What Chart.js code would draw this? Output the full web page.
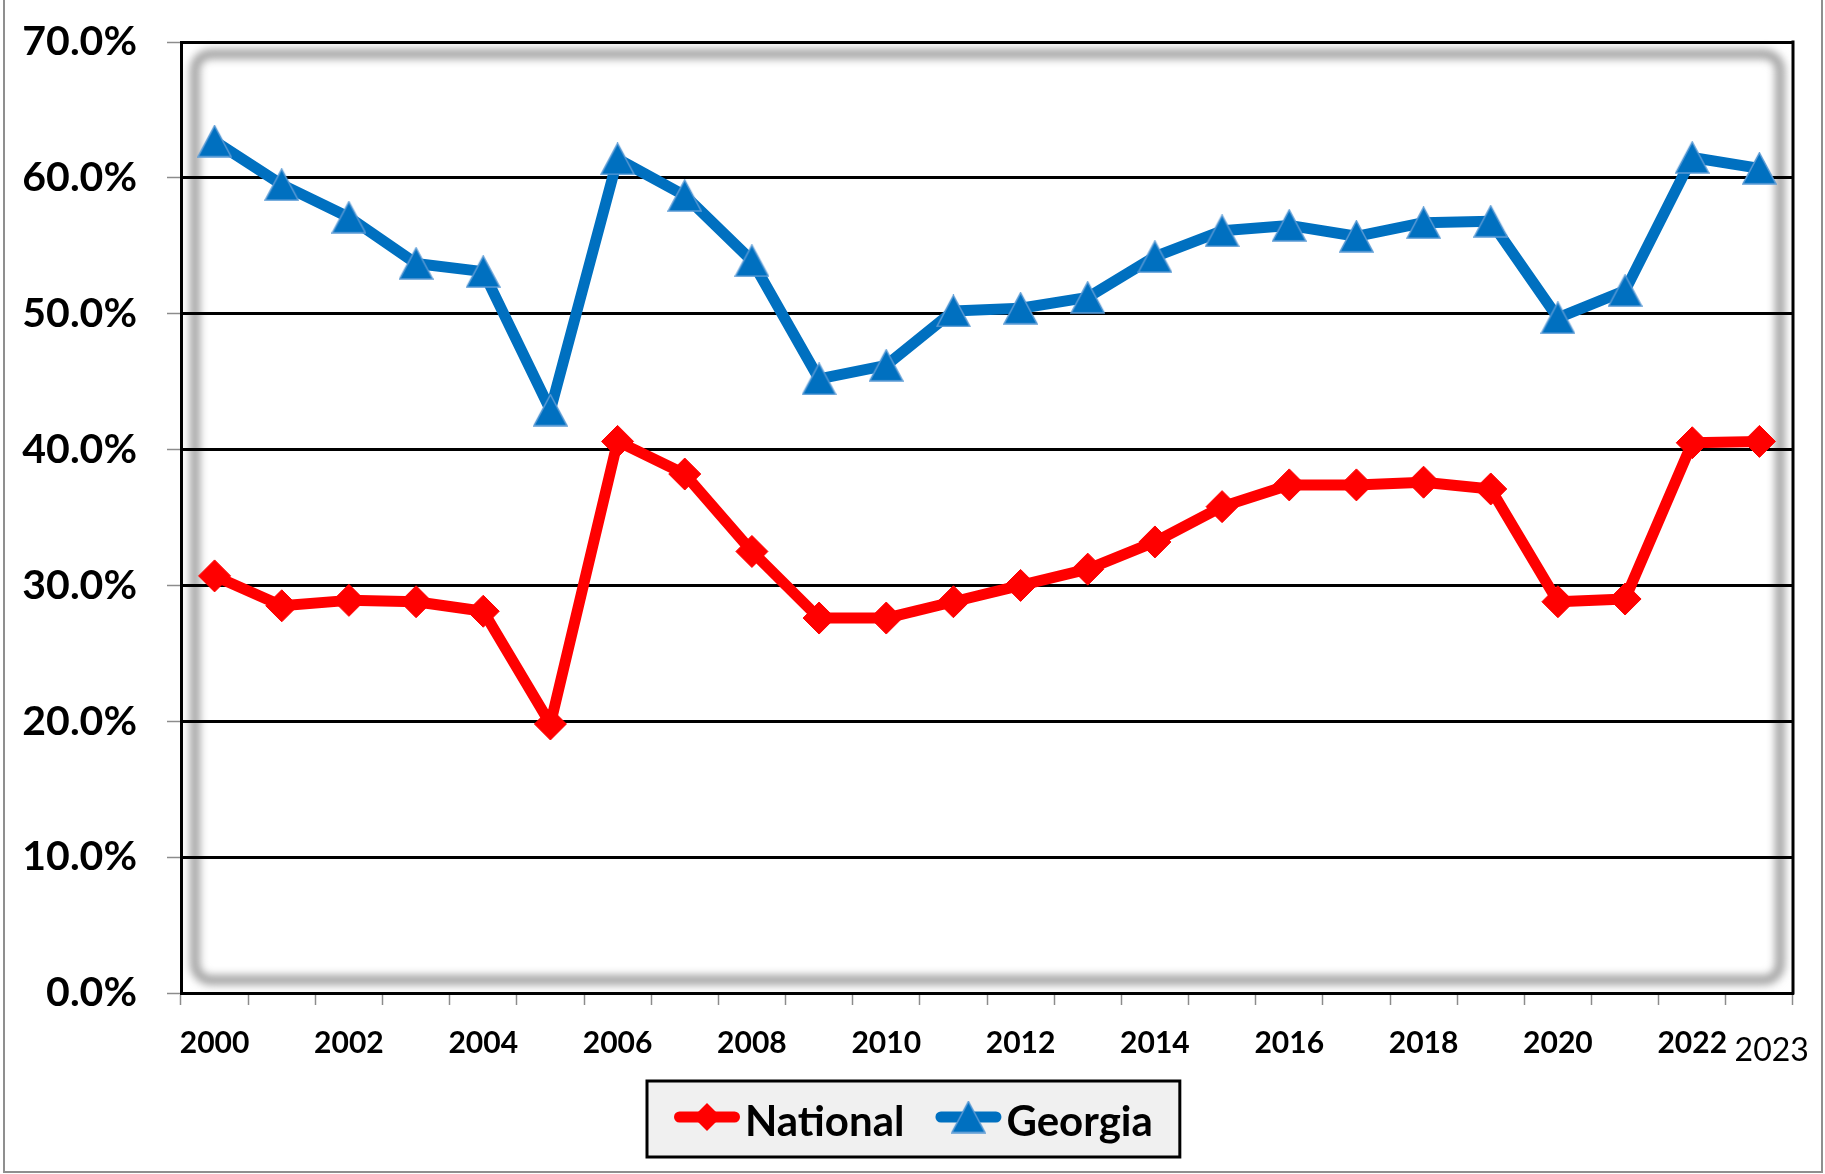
<!DOCTYPE html>
<html>
<head>
<meta charset="utf-8">
<script src="https://cdn.jsdelivr.net/npm/chart.js@4/dist/chart.umd.min.js"></script>
<style>
  html, body { margin: 0; padding: 0; background: #ffffff; }
  #c { display: block; }
</style>
</head>
<body>
<canvas id="c" width="1825" height="1174"></canvas>
<script>
// ---- Data ----
const years = ['2000','2001','2002','2003','2004','2005','2006','2007','2008','2009','2010','2011',
               '2012','2013','2014','2015','2016','2017','2018','2019','2020','2021','2022','2023'];
const nationalValues = [30.7, 28.5, 28.9, 28.8, 28.1, 19.8, 40.6, 38.2, 32.5, 27.6, 27.6, 28.8,
                        30.0, 31.2, 33.2, 35.8, 37.4, 37.4, 37.6, 37.1, 28.8, 29.0, 40.5, 40.6];
const georgiaValues  = [62.7, 59.5, 57.1, 53.7, 53.1, 42.9, 61.4, 58.7, 53.9, 45.2, 46.2, 50.2,
                        50.4, 51.2, 54.2, 56.1, 56.5, 55.7, 56.7, 56.8, 49.7, 51.7, 61.5, 60.7];
const seriesNames = ['National', 'Georgia'];
const yTicks = [0, 10, 20, 30, 40, 50, 60, 70];

// ---- Styles ----
const RED = '#ff0000';
const BLUE = '#0070c0';
const BLUE_EDGE = '#5b9bd5';
const FONT = 'Lato';

// Excel-like triangle marker (bounding box centred on the point)
function makeTriangle(w, h, fill, edge) {
  const cv = document.createElement('canvas');
  cv.width = w; cv.height = h;
  const g = cv.getContext('2d');
  g.beginPath();
  g.moveTo(w / 2, 1);
  g.lineTo(w - 1, h - 1);
  g.lineTo(1, h - 1);
  g.closePath();
  g.fillStyle = fill;
  g.fill();
  g.lineWidth = 1.5;
  g.strokeStyle = edge;
  g.stroke();
  return cv;
}
const triangleImg = makeTriangle(35, 33, BLUE, BLUE_EDGE);

function drawMarker(ctx, style, x, y, r, color) {
  if (typeof style === 'object') {
    ctx.drawImage(style, x - style.width / 2, y - style.height / 2);
    return;
  }
  ctx.beginPath();
  ctx.moveTo(x - r, y);
  ctx.lineTo(x, y - r);
  ctx.lineTo(x + r, y);
  ctx.lineTo(x, y + r);
  ctx.closePath();
  ctx.fillStyle = color;
  ctx.fill();
}

// Background, inner shadow of the plot area, outer frame
const decorPlugin = {
  id: 'decor',
  beforeDraw(chart) {
    const ctx = chart.ctx;
    const a = chart.chartArea;
    ctx.save();
    ctx.fillStyle = '#ffffff';
    ctx.fillRect(0, 0, chart.width, chart.height);
    // soft inset shadow (rounded rectangle)
    ctx.filter = 'blur(4px)';
    ctx.strokeStyle = '#9a9a9a';
    ctx.lineWidth = 9;
    const x0 = a.left + 14, y0 = a.top + 12, x1 = a.right - 13, y1 = a.bottom - 13;
    ctx.beginPath();
    if (ctx.roundRect) ctx.roundRect(x0, y0, x1 - x0, y1 - y0, 16);
    else ctx.rect(x0, y0, x1 - x0, y1 - y0);
    ctx.stroke();
    ctx.filter = 'none';
    ctx.restore();
  },
  afterDraw(chart) {
    const ctx = chart.ctx;
    const a = chart.chartArea;
    ctx.save();
    // right border of the plot area
    ctx.strokeStyle = '#000000';
    ctx.lineWidth = 3;
    ctx.beginPath();
    ctx.moveTo(a.right, a.top - 1.5);
    ctx.lineTo(a.right, a.bottom + 1.5);
    ctx.stroke();
    // outer chart frame (left, right, bottom)
    ctx.strokeStyle = '#8f8f8f';
    ctx.lineWidth = 2;
    ctx.beginPath();
    ctx.moveTo(4, 0); ctx.lineTo(4, 1172);
    ctx.lineTo(1822, 1172); ctx.lineTo(1822, 0);
    ctx.stroke();
    ctx.restore();
  }
};

// Legend box with line + marker samples
const legendPlugin = {
  id: 'boxLegend',
  afterDraw(chart) {
    const ctx = chart.ctx;
    ctx.save();
    ctx.font = 'bold 42px ' + FONT;
    const SAMPLE = 66, GAP = 5, ITEMGAP = 31, PADX = 27;
    const items = chart.data.datasets.map(ds => ({ ds, w: ctx.measureText(ds.label).width }));
    let total = 0;
    items.forEach((it, i) => { total += SAMPLE + GAP + it.w + (i ? ITEMGAP : 0); });
    const boxW = total + 2 * PADX;
    const boxX = Math.round(913 - boxW / 2);
    const boxY = 1081, boxH = 76;
    ctx.fillStyle = '#f0f0f0';
    ctx.fillRect(boxX, boxY, boxW, boxH);
    ctx.strokeStyle = '#000000';
    ctx.lineWidth = 3;
    ctx.strokeRect(boxX, boxY, boxW, boxH);
    let x = boxX + PADX;
    const cy = 1117;
    items.forEach((it, i) => {
      if (i) x += ITEMGAP;
      const ds = it.ds;
      ctx.strokeStyle = ds.borderColor;
      ctx.lineWidth = 11;
      ctx.lineCap = 'round';
      ctx.beginPath();
      ctx.moveTo(x + 5.5, cy);
      ctx.lineTo(x + SAMPLE - 5.5, cy);
      ctx.stroke();
      drawMarker(ctx, ds.pointStyle, x + SAMPLE / 2, cy, 14, ds.pointBackgroundColor);
      ctx.fillStyle = '#000000';
      ctx.textBaseline = 'alphabetic';
      ctx.textAlign = 'left';
      ctx.fillText(ds.label, x + SAMPLE + GAP, 1136);
      x += SAMPLE + GAP + it.w;
    });
    ctx.restore();
  }
};

const LAST = years.length - 1;

new Chart(document.getElementById('c'), {
  type: 'line',
  data: {
    labels: years,
    datasets: [
      {
        label: seriesNames[0],
        data: nationalValues,
        borderColor: RED,
        backgroundColor: RED,
        borderWidth: 11,
        borderJoinStyle: 'round',
        borderCapStyle: 'round',
        pointStyle: 'rectRot',
        pointRadius: 16,
        pointBackgroundColor: RED,
        pointBorderColor: RED,
        pointBorderWidth: 1,
        fill: false,
        tension: 0
      },
      {
        label: seriesNames[1],
        data: georgiaValues,
        borderColor: BLUE,
        backgroundColor: BLUE,
        borderWidth: 11,
        borderJoinStyle: 'round',
        borderCapStyle: 'round',
        pointStyle: triangleImg,
        pointRadius: 16,
        pointBackgroundColor: BLUE,
        pointBorderColor: BLUE_EDGE,
        pointBorderWidth: 1,
        fill: false,
        tension: 0
      }
    ]
  },
  options: {
    responsive: false,
    devicePixelRatio: 1,
    animation: false,
    events: [],
    layout: { padding: { left: 0, top: 42, right: 32, bottom: 0 } },
    plugins: {
      legend: { display: false },
      tooltip: { enabled: false },
      title: { display: false }
    },
    scales: {
      x: {
        type: 'category',
        offset: true,
        grid: {
          offset: true,
          drawOnChartArea: false,
          drawTicks: true,
          tickLength: 12,
          tickColor: '#8c8c8c',
          tickWidth: 1.5
        },
        border: { display: true, color: '#000000', width: 3 },
        ticks: {
          autoSkip: false,
          maxRotation: 0,
          minRotation: 0,
          padding: 20,
          color: '#000000',
          font: (c) => c.index === LAST
            ? { family: FONT, size: 32, weight: 'normal', lineHeight: 1.6 }
            : { family: FONT, size: 30, weight: 'bold', lineHeight: 1.2 },
          callback: function (value, index) {
            if (index === LAST) return '   ' + years[index];
            return index % 2 === 0 ? years[index] : '';
          }
        },
        afterFit: (s) => { s.height = 181; s.paddingLeft = 0; s.paddingRight = 0; }
      },
      y: {
        min: yTicks[0],
        max: yTicks[yTicks.length - 1],
        afterBuildTicks: (s) => { s.ticks = yTicks.map(v => ({ value: v })); },
        grid: {
          color: '#000000',
          lineWidth: 3,
          drawTicks: true,
          tickLength: 14,
          tickColor: '#8c8c8c',
          tickWidth: 1.5
        },
        border: { display: true, color: '#000000', width: 3 },
        ticks: {
          padding: 30,
          color: '#000000',
          font: { family: FONT, size: 41, weight: 'bold' },
          callback: (v) => Number(v).toFixed(1) + '%'
        },
        afterFit: (s) => { s.width = 181; s.paddingTop = 0; s.paddingBottom = 0; }
      }
    }
  },
  plugins: [decorPlugin, legendPlugin]
});
</script>
</body>
</html>
